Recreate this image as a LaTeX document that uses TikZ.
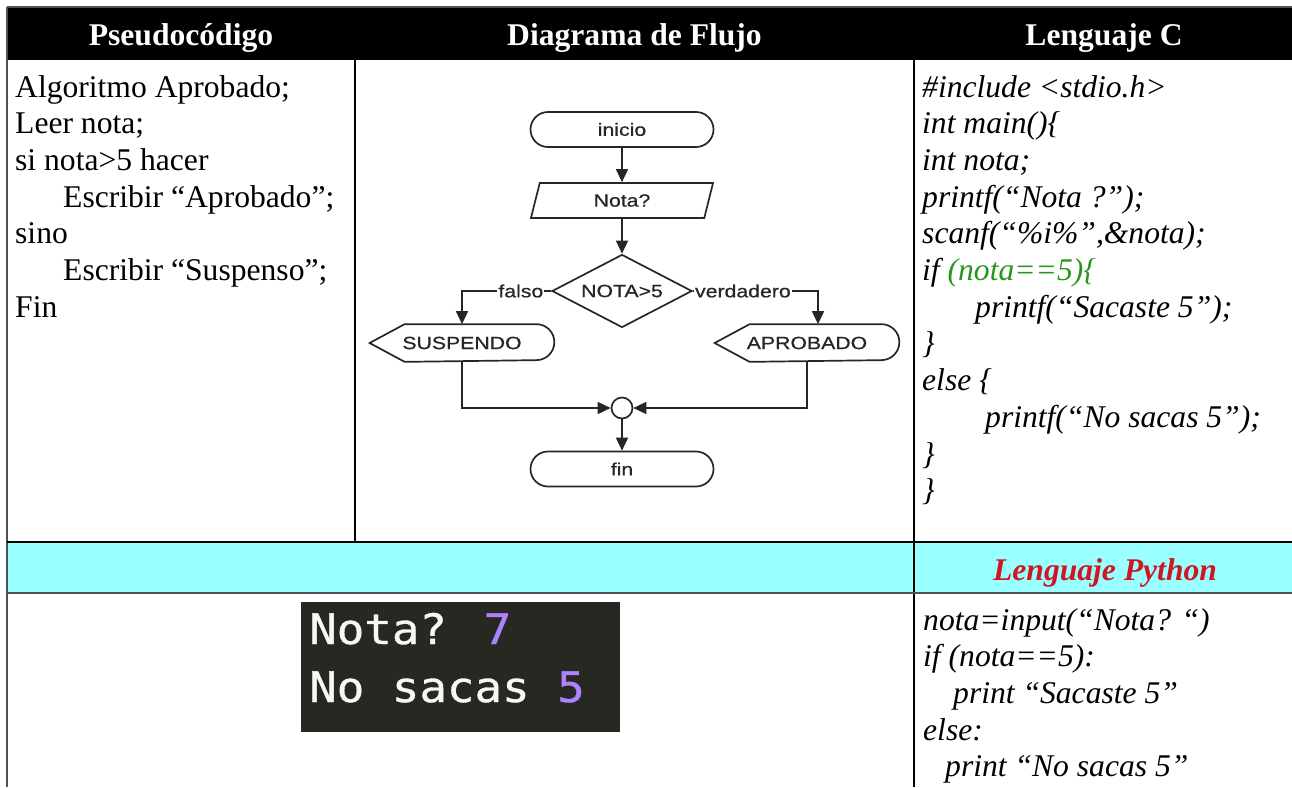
\documentclass[tikz,border=0pt]{standalone}
\usepackage{fontspec}
\setmainfont{Liberation Serif}
\newfontfamily\flujo[FakeStretch=1.2,FakeBold=0.6]{Liberation Sans}
\newfontfamily\consola[FakeBold=0.8,FakeStretch=1.09]{DejaVu Sans Mono}
\usetikzlibrary{shapes.geometric,arrows.meta}

\definecolor{cian}{RGB}{153,255,255}
\definecolor{verde}{RGB}{40,150,30}
\definecolor{rojo}{RGB}{204,24,36}
\definecolor{fondoterm}{RGB}{39,40,34}
\definecolor{morado}{RGB}{174,129,255}
\definecolor{textoterm}{RGB}{248,248,242}
\definecolor{borde}{RGB}{80,80,80}

\tikzset{
  linea/.style={anchor=base west, inner sep=0pt, font=\fontsize{31.6}{36.7}\selectfont},
  codigo/.style={linea, font=\fontsize{31.6}{36.7}\selectfont\itshape},
  titulo/.style={anchor=base, inner sep=0pt, font=\fontsize{31.6}{36.7}\selectfont\bfseries},
  caja/.style={line width=1.7pt, draw=black!85, text=black!85, font=\flujo\fontsize{17.7}{20}\selectfont},
  terminal/.style={caja, rounded corners=17.5pt, minimum width=183pt, minimum height=35pt},
  entrada/.style={caja, trapezium, trapezium left angle=80, trapezium right angle=100,
    trapezium stretches=true, minimum width=183pt, minimum height=35pt},
  decision/.style={caja, diamond, aspect=1.9, inner sep=0pt, minimum width=140pt, minimum height=73pt},
  salida/.style={caja, draw=none, minimum width=183pt, minimum height=36pt},
  flecha/.style={->, line width=1.7pt, draw=black!85},
  etiqueta/.style={fill=white, inner sep=1pt, text=black!85, font=\flujo\fontsize{17.7}{20}\selectfont},
  consola/.style={anchor=base west, inner sep=0pt, text=textoterm, font=\consola\fontsize{42}{48}\selectfont},
}
\newcommand{\contorno}[1]{%
  \draw[line width=1.7pt, draw=black!85] (#1.west) -- ([xshift=35pt]#1.north west)
    -- ([xshift=-18pt]#1.north east) arc[start angle=90, end angle=-90, radius=18pt]
    -- ([xshift=35pt]#1.south west) -- cycle;}

\begin{document}
\begin{tikzpicture}[x=1pt, y=-1pt, >={Stealth[length=13pt,width=12pt,inset=0pt]}]
\useasboundingbox (0,0) rectangle (1292,787);

% Tabla
\fill[black] (7,7) rectangle (1292,60);
\fill[cian] (7,542) rectangle (1292,593);
\draw[borde, line width=1.2pt] (7,7) -- (1292,7);
\draw[borde, line width=1.5pt] (7,7) -- (7,787);
\draw[line width=1.2pt] (355,60) -- (355,542);
\draw[line width=1.2pt] (914,60) -- (914,787);
\draw[line width=1.2pt] (7,542) -- (1292,542);
\draw[borde, line width=1.2pt] (7,593) -- (1292,593);

% Encabezados
\node (hpseudo) [titulo, text=white] at (181,45) {Pseudocódigo};
\node (hflujo) [titulo, text=white] at (634.5,45) {Diagrama de Flujo};
\node (hc) [titulo, text=white] at (1104,45) {Lenguaje C};
\node (hpy) [titulo, text=rojo, font=\fontsize{31.6}{36.7}\selectfont\bfseries\itshape] at (1105,580) {Lenguaje Python};

% Pseudocodigo
\node (ps1) [linea] at (15,97) {Algoritmo Aprobado;};
\node (ps2) [linea] at (15,133.7) {Leer nota;};
\node (ps3) [linea] at (15,170.4) {si nota>5 hacer};
\node (ps4) [linea] at (63,207.1) {Escribir “Aprobado”;};
\node (ps5) [linea] at (15,243.8) {sino};
\node (ps6) [linea] at (63,280.5) {Escribir “Suspenso”;};
\node (ps7) [linea] at (15,317.2) {Fin};

% Codigo C
\node (c1) [codigo] at (922,97) {\#include <stdio.h>};
\node (c2) [codigo] at (922,133.7) {int main()\{};
\node (c3) [codigo] at (922,170.4) {int nota;};
\node (c4) [codigo] at (922,207.1) {printf(“Nota ?”);};
\node (c5) [codigo] at (922,243.8) {scanf(“\%i\%”,\&nota);};
\node (c6) [codigo] at (922,280.5) {if \textcolor{verde}{(nota==5)\{}};
\node (c7) [codigo] at (975,317.2) {printf(“Sacaste 5”);};
\node (c8) [codigo] at (922,353.9) {\}};
\node (c9) [codigo] at (922,390.6) {else \{};
\node (c10) [codigo] at (985,427.3) {printf(“No sacas 5”);};
\node (c11) [codigo] at (922,464) {\}};
\node (c12) [codigo] at (922,500.7) {\}};

% Codigo Python
\node (py1) [codigo] at (923,630) {nota=input(“Nota? “)};
\node (py2) [codigo] at (923,666.7) {if (nota==5):};
\node (py3) [codigo] at (953,703.4) {print “Sacaste 5”};
\node (py4) [codigo] at (923,740.1) {else:};
\node (py5) [codigo] at (945,776.8) {print “No sacas 5”};

% Consola
\node (pantalla) [fill=fondoterm, inner sep=0pt, minimum width=319pt, minimum height=130pt, anchor=north west] at (301,602) {};
\node (sal1) [consola] at (309,644) {Nota? \textcolor{morado}{7}};
\node (sal2) [consola] at (309,702) {No sacas \textcolor{morado}{5}};

% Diagrama de flujo
\node (ini) [terminal] at (622,129.5) {inicio};
\node (nota) [entrada] at (622,200.5) {Nota?};
\node (cond) [decision] at (622,291) {NOTA>5};
\node (susp) [salida] at (462,343) {SUSPENDO};
\node (aprob) [salida] at (807,343) {APROBADO};
\contorno{susp}
\contorno{aprob}
\node (union) [circle, draw=black!85, line width=1.7pt, minimum size=21pt, inner sep=0pt] at (622,408) {};
\node (fin) [terminal] at (622,469) {fin};

\draw[flecha] (ini) -- (nota);
\draw[flecha] (nota) -- (cond);
\draw[flecha] (cond.west) -| (susp.north) node[etiqueta, pos=0.17] {falso};
\draw[flecha] (cond.east) -| ([xshift=11pt]aprob.north) node[etiqueta, pos=0.2] {verdadero};
\draw[flecha] (susp.south) |- (union.west);
\draw[flecha] (aprob.south) |- (union.east);
\draw[flecha] (union) -- (fin);
\end{tikzpicture}
\end{document}
